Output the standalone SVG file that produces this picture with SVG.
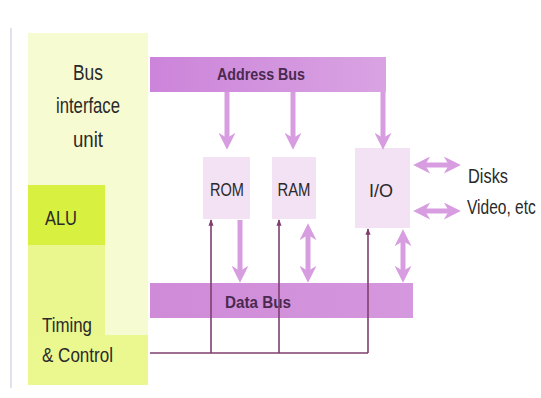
<svg xmlns="http://www.w3.org/2000/svg" width="541" height="398" viewBox="0 0 541 398">
<defs>
<linearGradient id="abus" x1="0" y1="0" x2="1" y2="0">
<stop offset="0" stop-color="#cc84da"/><stop offset="1" stop-color="#d9a3e2"/>
</linearGradient>
<linearGradient id="dbus" x1="0" y1="0" x2="1" y2="0">
<stop offset="0" stop-color="#cf8ad8"/><stop offset="1" stop-color="#d597de"/>
</linearGradient>
<marker id="bigHead" viewBox="0 0 10 10" refX="6" refY="5" markerWidth="3.4" markerHeight="3.4" orient="auto-start-reverse" markerUnits="strokeWidth">
<path d="M0,0 L10,5 L0,10 L3,5 Z" fill="#d79de0"/>
</marker>
<marker id="smallHead" viewBox="0 0 10 10" refX="9" refY="5" markerWidth="4" markerHeight="4" orient="auto" markerUnits="strokeWidth">
<path d="M0,1 L10,5 L0,9 Z" fill="#7e3f6e"/>
</marker>
<style>
.lbl{font-family:"Liberation Sans",Arial,sans-serif;fill:#2a2a2a}
.bus{font-family:"Liberation Sans",Arial,sans-serif;font-weight:bold;fill:#4a2a50;font-size:16px}
.box{fill:#f3e1f4}
.thick{stroke:#d79de0;stroke-width:5;fill:none}
.thin{stroke:#7e3f6e;stroke-width:1.6;fill:none}
</style>
</defs>
<rect width="541" height="398" fill="#ffffff"/>
<line x1="11" y1="28" x2="11" y2="388" stroke="#e2e2ee" stroke-width="2"/>

<g id="cpu">
<rect x="28" y="33" width="120" height="352" fill="#f7fbd2"/>
<rect x="28" y="245" width="77" height="90" fill="#eaf78e"/>
<rect x="28" y="335" width="120" height="50" fill="#ebf78f"/>
<text class="lbl" font-size="22" text-anchor="middle" x="88" y="80" textLength="30" lengthAdjust="spacingAndGlyphs">Bus</text>
<text class="lbl" font-size="22" text-anchor="middle" x="88" y="113" textLength="64" lengthAdjust="spacingAndGlyphs">interface</text>
<text class="lbl" font-size="22" text-anchor="middle" x="88" y="147" textLength="30" lengthAdjust="spacingAndGlyphs">unit</text>
</g>
<g id="alu">
<rect x="28" y="185" width="77" height="60" fill="#d8f040"/>
<text class="lbl" font-size="21" x="45" y="225" textLength="32" lengthAdjust="spacingAndGlyphs">ALU</text>
</g>
<g id="timing">
<text class="lbl" font-size="21" x="42" y="332" textLength="50" lengthAdjust="spacingAndGlyphs">Timing</text>
<text class="lbl" font-size="21" x="42" y="362" textLength="71" lengthAdjust="spacingAndGlyphs">&amp; Control</text>
</g>

<g id="address-bus">
<rect x="150" y="57" width="236" height="35" fill="url(#abus)"/>
<text class="bus" x="261" y="80" text-anchor="middle" textLength="88" lengthAdjust="spacingAndGlyphs">Address Bus</text>
</g>
<g id="data-bus">
<rect x="150" y="283" width="263" height="35" fill="url(#dbus)"/>
<text class="bus" x="258" y="308" text-anchor="middle" textLength="66" lengthAdjust="spacingAndGlyphs">Data Bus</text>
</g>

<g id="rom">
<rect class="box" x="203" y="157" width="47" height="62"/>
<text class="lbl" font-size="19" x="227" y="196" text-anchor="middle" textLength="34" lengthAdjust="spacingAndGlyphs">ROM</text>
</g>
<g id="ram">
<rect class="box" x="272" y="157" width="44" height="62"/>
<text class="lbl" font-size="19" x="294" y="196" text-anchor="middle" textLength="33" lengthAdjust="spacingAndGlyphs">RAM</text>
</g>
<g id="io">
<rect class="box" x="355" y="148" width="55" height="80"/>
<text class="lbl" font-size="19" x="381" y="197" text-anchor="middle" textLength="24" lengthAdjust="spacingAndGlyphs">I/O</text>
</g>
<g id="devices">
<text class="lbl" font-size="21" x="468" y="183" textLength="40" lengthAdjust="spacingAndGlyphs">Disks</text>
<text class="lbl" font-size="21" transform="translate(467,214) scale(0.74,1)">Video, etc</text>
</g>

<g id="connectors">
<path class="thick" d="M227,92 V143" marker-end="url(#bigHead)"/>
<path class="thick" d="M293,92 V143" marker-end="url(#bigHead)"/>
<path class="thick" d="M383,92 V143" marker-end="url(#bigHead)"/>
<path class="thick" d="M240,220 V276" marker-end="url(#bigHead)"/>
<path class="thick" d="M308,230 V276" marker-start="url(#bigHead)" marker-end="url(#bigHead)"/>
<path class="thick" d="M403,236 V276" marker-start="url(#bigHead)" marker-end="url(#bigHead)"/>
<path class="thick" d="M420,165 H454" marker-start="url(#bigHead)" marker-end="url(#bigHead)"/>
<path class="thick" d="M420,211 H454" marker-start="url(#bigHead)" marker-end="url(#bigHead)"/>
<path class="thin" d="M150,353 H368"/>
<path class="thin" d="M211,353 V220" marker-end="url(#smallHead)"/>
<path class="thin" d="M279,353 V220" marker-end="url(#smallHead)"/>
<path class="thin" d="M368,353 V229" marker-end="url(#smallHead)"/>
</g>
</svg>
